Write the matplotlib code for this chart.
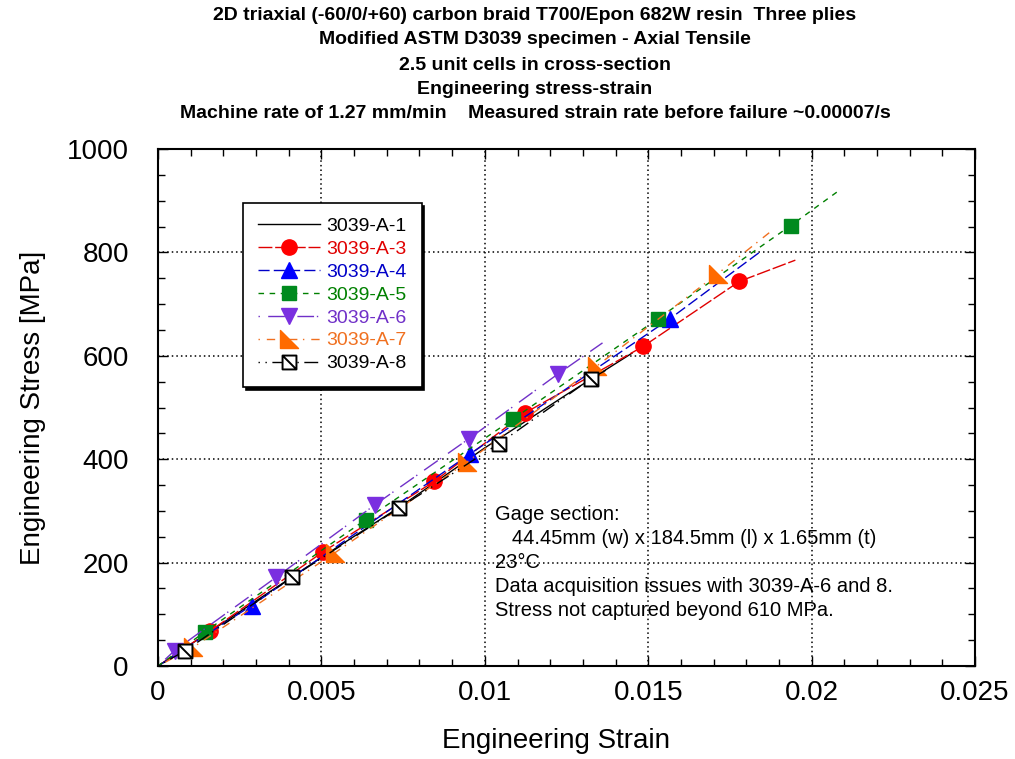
import matplotlib
matplotlib.use('Agg')
import matplotlib.pyplot as plt
from matplotlib.path import Path
from matplotlib.ticker import MultipleLocator

plt.rcParams.update({
    'font.family': ['Liberation Sans', 'DejaVu Sans'],
    'xtick.direction': 'in', 'ytick.direction': 'in',
    'xtick.top': True, 'ytick.right': True,
})

# strain / stress (origin, marker points, end of curve)
a1_strain = [0.0, 0.0025, 0.005, 0.0075, 0.010, 0.0125, 0.0145]
a1_stress = [0, 105, 210, 312, 422, 525, 605]

a3_strain = [0.0, 0.0016, 0.00505, 0.00845, 0.01124, 0.01484, 0.01779, 0.0195]
a3_stress = [0, 68, 221, 357, 490, 618, 744, 785]

a4_strain = [0.0, 0.00286, 0.00954, 0.01567, 0.0184]
a4_stress = [0, 117, 410, 672, 800]

a5_strain = [0.0, 0.00143, 0.00635, 0.01087, 0.0153, 0.01936, 0.0208]
a5_stress = [0, 66, 283, 478, 672, 852, 918]

a6_strain = [0.0, 0.00051, 0.00362, 0.00664, 0.00952, 0.01224, 0.0136]
a6_stress = [0, 30, 172, 312, 440, 565, 625]

a7_strain = [0.0, 0.00107, 0.00541, 0.00944, 0.01344, 0.01713, 0.0187]
a7_stress = [0, 36, 219, 394, 581, 759, 838]

a8_strain = [0.0, 0.00084, 0.00411, 0.00736, 0.01043, 0.01325, 0.0137]
a8_stress = [0, 30, 172, 305, 430, 556, 572]

labels = ['3039-A-1', '3039-A-3', '3039-A-4', '3039-A-5', '3039-A-6', '3039-A-7', '3039-A-8']

title_lines = [
    '2D triaxial (-60/0/+60) carbon braid T700/Epon 682W resin  Three plies',
    'Modified ASTM D3039 specimen - Axial Tensile',
    '2.5 unit cells in cross-section',
    'Engineering stress-strain',
    'Machine rate of 1.27 mm/min    Measured strain rate before failure ~0.00007/s',
]
note = ('Gage section:\n'
        '   44.45mm (w) x 184.5mm (l) x 1.65mm (t)\n'
        '23\u00b0C\n'
        'Data acquisition issues with 3039-A-6 and 8.\n'
        'Stress not captured beyond 610 MPa.')

# custom markers
tri_ll = Path([(-1, 1), (-1, -1), (1, -1), (-1, 1)],
              [Path.MOVETO, Path.LINETO, Path.LINETO, Path.CLOSEPOLY])
sq_diag = Path([(-1, -1), (1, -1), (1, 1), (-1, 1), (-1, -1), (-1, 1), (1, -1)],
               [Path.MOVETO, Path.LINETO, Path.LINETO, Path.LINETO, Path.CLOSEPOLY,
                Path.MOVETO, Path.LINETO])

fig = plt.figure(figsize=(10.15, 7.59), dpi=100)
ax = fig.add_axes([0.1557, 0.1225, 0.805, 0.6812])

ax.plot(a1_strain, a1_stress, color='black', lw=1.0, label=labels[0])
ax.plot(a3_strain, a3_stress, color='#e00000', lw=1.0, ls=(0, (10, 2)),
        marker='o', ms=11, mfc='#ff0000', mec='#ff0000',
        markevery=list(range(1, len(a3_strain) - 1)), label=labels[1])
ax.plot(a4_strain, a4_stress, color='#0000c8', lw=1.0, ls=(0, (8, 3)),
        marker='^', ms=11, mfc='#0000ff', mec='#0000ff',
        markevery=list(range(1, len(a4_strain) - 1)), label=labels[2])
ax.plot(a5_strain, a5_stress, color='#008000', lw=1.0, ls=(0, (4, 4)),
        marker='s', ms=10, mfc='#008a1e', mec='#008a1e',
        markevery=list(range(1, len(a5_strain) - 1)), label=labels[3])
ax.plot(a6_strain, a6_stress, color='#7030c8', lw=1.0, ls=(0, (1, 6, 12, 2)),
        marker='v', ms=11, mfc='#7a2fe0', mec='#7a2fe0',
        markevery=list(range(1, len(a6_strain) - 1)), label=labels[4])
ax.plot(a7_strain, a7_stress, color='#f07020', lw=1.0, ls=(0, (1, 5, 6, 4)),
        marker=tri_ll, ms=13, mfc='#ff6a00', mec='#ff6a00',
        markevery=list(range(1, len(a7_strain) - 1)), label=labels[5])
ax.plot(a8_strain, a8_stress, color='black', lw=1.0, ls=(0, (1, 4, 1, 4, 10, 3)),
        marker=sq_diag, ms=10, mfc='white', mec='black', mew=1.4,
        markevery=list(range(1, len(a8_strain) - 1)), label=labels[6])

ax.set_xlim(0, 0.025)
ax.set_ylim(0, 1000)
ax.xaxis.set_major_locator(MultipleLocator(0.005))
ax.xaxis.set_minor_locator(MultipleLocator(0.001))
ax.yaxis.set_major_locator(MultipleLocator(200))
ax.yaxis.set_minor_locator(MultipleLocator(50))
ax.set_xticks([0, 0.005, 0.01, 0.015, 0.02, 0.025])
ax.set_xticklabels(['0', '0.005', '0.01', '0.015', '0.02', '0.025'])
ax.tick_params(which='both', top=True, right=True, width=1.0, labelsize=20)
ax.tick_params(which='major', length=7)
ax.tick_params(which='minor', length=5)
ax.tick_params(axis='x', pad=10)
ax.tick_params(axis='y', pad=21)
ax.grid(True, which='major', color='black', ls=(0, (1, 2)), lw=1.1)
for s in ax.spines.values():
    s.set_linewidth(1.5)

ax.set_xlabel('Engineering Strain', fontsize=20)
ax.set_ylabel('Engineering Stress [MPa]', fontsize=20)
ax.xaxis.set_label_coords(0.487, -0.12)
ax.yaxis.set_label_coords(-0.137, 0.5)

leg = ax.legend(loc='upper left', bbox_to_anchor=(0.104, 0.8956), borderaxespad=0,
                fontsize=14, handlelength=3.2, handletextpad=0.35, borderpad=0.75,
                labelspacing=0.27, fancybox=False, edgecolor='black',
                shadow={'color': 'black', 'alpha': 1.0})
leg.get_frame().set_linewidth(1.2)
for txt, line in zip(leg.get_texts(), leg.get_lines()):
    txt.set_color(line.get_color())

ax.text(0.413, 0.312, note, transform=ax.transAxes, fontsize=14.5, va='top',
        ha='left', linespacing=1.34)

title_y = [15, 40, 65, 89, 114]
for line, y in zip(title_lines, title_y):
    fig.text(0.527, 1 - y / 759, line, ha='center', va='center', fontsize=14,
             fontweight='bold', family=['Liberation Sans Narrow', 'Liberation Sans'])

fig.savefig('out.png', dpi=100)
